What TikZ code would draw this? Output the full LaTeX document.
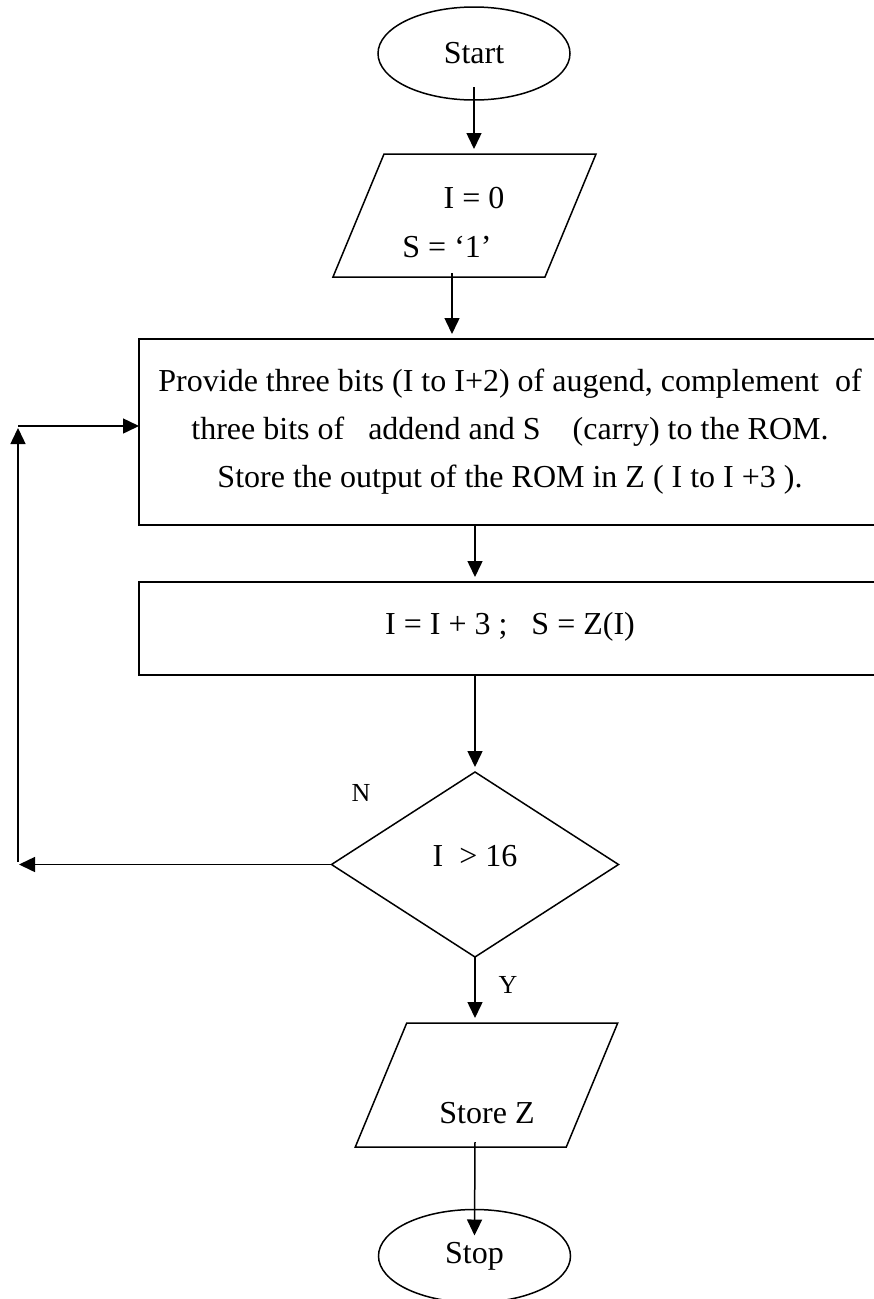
\documentclass[tikz,border=0pt]{standalone}
\usepackage{fontspec}
\setmainfont{Liberation Serif}
\usetikzlibrary{positioning, arrows.meta, shapes.geometric}

\begin{document}
\begin{tikzpicture}[x=1pt, y=-1pt, line width=1.5pt,
    every node/.style={font=\fontsize{32}{48}\selectfont, inner sep=0pt, outer sep=0pt},
    terminal/.style={draw, ellipse, minimum width=192pt, minimum height=93pt},
    io/.style={draw, rectangle, xslant=0.415, minimum width=212pt, minimum height=123pt},
    process/.style={draw, rectangle, minimum width=742pt, align=center},
    decision/.style={draw, diamond, minimum width=287pt, minimum height=185pt},
    tag/.style={font=\fontsize{26}{30}\selectfont},
    arrow/.style={-{Triangle[length=16pt, width=15pt]}}]
\useasboundingbox (0,0) rectangle (874,1299);

% Shapes, top to bottom
\node[terminal] (start) at (474,53.5) {Start};
\node[io] (in1) at (464.5,215.5) {};
\node (in1a) at (474,198) {I = 0};
\node (in1b) at (447,247) {S = ‘1’};
\node[process, minimum height=186pt] (proc1) at (510,432)
    {Provide three bits (I to I+2) of augend, complement\ \ of\\
     three bits of\ \ \ addend and S\ \ \ \ (carry) to the ROM.\\
     Store the output of the ROM in Z ( I to I +3 ).};
\node[process, minimum height=93pt, text depth=11pt] (proc2) at (510,628.5)
    {I = I + 3 ;\ \ \ S = Z(I)};
\node[decision, text depth=18pt] (dec) at (475,864.5) {I\ \ > 16};
\node[io, minimum width=211pt, minimum height=124pt] (out1) at (486.5,1085) {};
\node (out1a) at (487,1113) {Store Z};
\node[terminal] (stop) at (474.5,1256) {Stop};

% Labels of the two branches
\node[tag] (no) at (361,793) {N};
\node[tag] (yes) at (508,985) {Y};

% Main flow
\draw[arrow, shorten >=5pt] ([yshift=13pt]start.south) -- (start.south |- in1.north);
\draw[arrow, shorten >=5pt] ([xshift=-12.5pt, yshift=4pt]in1.center |- in1.south) -- ([xshift=-12.5pt]in1.center |- proc1.north);
\draw[arrow, shorten >=5pt] (proc1.south -| dec) -- (proc2.north -| dec);
\draw[arrow, shorten >=5pt] (proc2.south -| dec) -- (dec.north);
\draw[arrow, shorten >=5pt] (dec.south) -- (dec.south |- out1.north);
\draw[arrow] ([yshift=5pt]out1.south -| dec) -- ([yshift=-26pt]stop.north);

% Loop back when I is not yet past 16
\coordinate (loopb) at (19,864.5);
\coordinate (loopt) at (18,426);
\draw[arrow] (dec.west) -- (loopb);
\draw[arrow] ([xshift=-1pt, yshift=2.5pt]loopb) -- ([yshift=-2pt]loopt);
\draw[arrow] (loopt) -- (loopt -| proc1.west);
\end{tikzpicture}
\end{document}
